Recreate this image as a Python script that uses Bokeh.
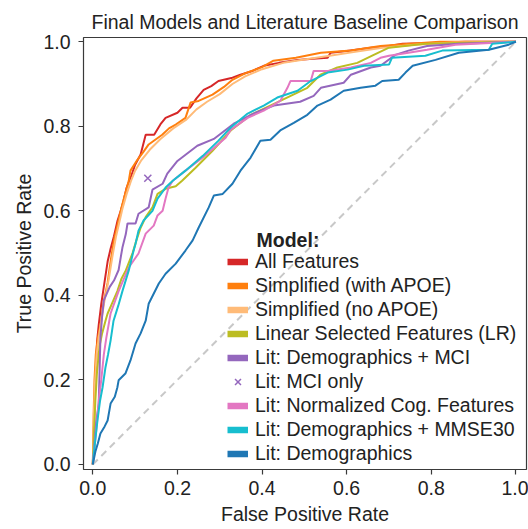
from bokeh.plotting import figure
from bokeh.models import Range1d, FixedTicker, PrintfTickFormatter, Legend, LegendItem, Label
from bokeh.embed import file_html
from bokeh.resources import INLINE

FONT = "Liberation Sans"
TXT = "#222222"
FS = "19.5px"

# ---------------- data ----------------
tick_vals = [0.0, 0.2, 0.4, 0.6, 0.8, 1.0]

diag_x = [0.0, 1.0]
diag_y = [0.0, 1.0]

fpr_all = [0, 0.003, 0.006, 0.010, 0.014, 0.020, 0.026, 0.035, 0.042, 0.050, 0.058, 0.066, 0.073, 0.080, 0.090,
           0.100, 0.113, 0.125, 0.145, 0.160, 0.172, 0.200, 0.212, 0.230, 0.245, 0.262, 0.280, 0.297, 0.330, 0.349,
           0.375, 0.404, 0.440, 0.484, 0.520, 0.555, 0.562, 0.600, 0.657, 0.700, 0.732, 0.800, 0.880, 1.0]
tpr_all = [0, 0.10, 0.20, 0.29, 0.33, 0.38, 0.42, 0.48, 0.51, 0.54, 0.575, 0.60, 0.625, 0.655, 0.680,
           0.709, 0.733, 0.780, 0.780, 0.805, 0.820, 0.832, 0.844, 0.844, 0.866, 0.886, 0.895, 0.907, 0.915, 0.922,
           0.930, 0.943, 0.950, 0.957, 0.960, 0.962, 0.974, 0.978, 0.986, 0.990, 0.995, 0.997, 1.0, 1.0]

fpr_apoe = [0, 0.002, 0.004, 0.007, 0.012, 0.018, 0.025, 0.035, 0.042, 0.050, 0.058, 0.066, 0.075, 0.085, 0.089,
            0.105, 0.120, 0.132, 0.150, 0.164, 0.180, 0.196, 0.219, 0.231, 0.250, 0.283, 0.310, 0.330, 0.360, 0.400,
            0.427, 0.480, 0.539, 0.610, 0.680, 0.750, 0.820, 1.0]
tpr_apoe = [0, 0.12, 0.20, 0.26, 0.30, 0.33, 0.38, 0.43, 0.48, 0.53, 0.565, 0.60, 0.635, 0.671, 0.695,
            0.720, 0.740, 0.757, 0.770, 0.780, 0.795, 0.804, 0.820, 0.856, 0.860, 0.875, 0.893, 0.910, 0.925, 0.940,
            0.955, 0.962, 0.974, 0.979, 0.990, 0.995, 1.0, 1.0]

fpr_noapoe = [0, 0.002, 0.005, 0.009, 0.014, 0.020, 0.028, 0.038, 0.046, 0.055, 0.062, 0.070, 0.080, 0.090, 0.100,
              0.115, 0.135, 0.160, 0.190, 0.220, 0.245, 0.270, 0.300, 0.330, 0.360, 0.400, 0.450, 0.500, 0.560, 0.620,
              0.680, 0.760, 0.850, 1.0]
tpr_noapoe = [0, 0.10, 0.19, 0.26, 0.30, 0.34, 0.39, 0.44, 0.49, 0.54, 0.57, 0.605, 0.64, 0.67, 0.695,
              0.72, 0.745, 0.770, 0.795, 0.815, 0.840, 0.858, 0.876, 0.900, 0.918, 0.935, 0.950, 0.958, 0.967, 0.976,
              0.985, 0.993, 0.998, 1.0]

fpr_lr = [0, 0.003, 0.006, 0.010, 0.016, 0.022, 0.030, 0.035, 0.045, 0.058, 0.068, 0.078, 0.094, 0.103, 0.113,
          0.125, 0.141, 0.153, 0.172, 0.196, 0.211, 0.243, 0.283, 0.326, 0.373, 0.443, 0.507, 0.538, 0.578, 0.625,
          0.664, 0.700, 0.786, 1.0]
tpr_lr = [0, 0.08, 0.15, 0.22, 0.28, 0.31, 0.34, 0.357, 0.38, 0.41, 0.44, 0.459, 0.50, 0.53, 0.56,
          0.585, 0.608, 0.64, 0.652, 0.658, 0.671, 0.702, 0.742, 0.790, 0.827, 0.860, 0.891, 0.922, 0.939, 0.950,
          0.969, 0.986, 0.995, 1.0]

fpr_demo_mci = [0, 0.004, 0.008, 0.014, 0.016, 0.018, 0.022, 0.026, 0.040, 0.050, 0.061, 0.066, 0.070, 0.078,
                0.082, 0.101, 0.108, 0.132, 0.141, 0.165, 0.176, 0.200, 0.247, 0.286, 0.333, 0.380, 0.428, 0.490,
                0.522, 0.539, 0.593, 0.610, 0.657, 0.680, 0.715, 0.746, 0.790, 0.865, 1.0]
tpr_demo_mci = [0, 0.05, 0.10, 0.144, 0.22, 0.30, 0.35, 0.388, 0.42, 0.435, 0.46, 0.49, 0.513, 0.545,
                0.57, 0.57, 0.593, 0.608, 0.650, 0.664, 0.688, 0.718, 0.754, 0.770, 0.806, 0.830, 0.849, 0.858,
                0.872, 0.891, 0.903, 0.922, 0.939, 0.943, 0.969, 0.979, 0.990, 0.995, 1.0]

fpr_mci = [0.13]
tpr_mci = [0.677]

fpr_cog = [0, 0.005, 0.010, 0.015, 0.020, 0.026, 0.032, 0.042, 0.061, 0.085, 0.108, 0.125, 0.144, 0.153, 0.165,
           0.172, 0.179, 0.189, 0.219, 0.260, 0.314, 0.326, 0.366, 0.404, 0.443, 0.460, 0.467, 0.515, 0.522, 0.555,
           0.610, 0.657, 0.680, 0.700, 0.746, 0.790, 0.857, 1.0]
tpr_cog = [0, 0.05, 0.10, 0.16, 0.20, 0.26, 0.30, 0.357, 0.41, 0.466, 0.499, 0.546, 0.565, 0.589, 0.60,
           0.629, 0.655, 0.671, 0.695, 0.726, 0.773, 0.792, 0.82, 0.837, 0.86, 0.891, 0.907, 0.907, 0.931, 0.931,
           0.939, 0.95, 0.962, 0.967, 0.974, 0.981, 0.993, 1.0]

fpr_mmse = [0, 0.005, 0.011, 0.017, 0.023, 0.030, 0.036, 0.042, 0.049, 0.060, 0.070, 0.085, 0.095, 0.101, 0.108,
            0.120, 0.141, 0.153, 0.172, 0.189, 0.219, 0.260, 0.297, 0.326, 0.366, 0.404, 0.436, 0.484, 0.515, 0.555,
            0.602, 0.641, 0.700, 0.707, 0.786, 0.826, 0.936, 0.944, 1.0]
tpr_mmse = [0, 0.05, 0.104, 0.15, 0.182, 0.23, 0.26, 0.293, 0.34, 0.375, 0.41, 0.459, 0.50, 0.522, 0.553,
            0.577, 0.60, 0.629, 0.655, 0.671, 0.695, 0.730, 0.766, 0.797, 0.83, 0.849, 0.868, 0.884, 0.907, 0.927,
            0.934, 0.943, 0.946, 0.962, 0.967, 0.979, 0.981, 0.995, 1.0]

fpr_demo = [0, 0.006, 0.012, 0.018, 0.028, 0.035, 0.042, 0.052, 0.058, 0.061, 0.077, 0.089, 0.101, 0.113, 0.125,
            0.132, 0.156, 0.172, 0.196, 0.219, 0.236, 0.250, 0.274, 0.286, 0.307, 0.330, 0.349, 0.373, 0.396, 0.420,
            0.443, 0.475, 0.507, 0.531, 0.562, 0.593, 0.633, 0.668, 0.684, 0.723, 0.739, 0.756, 0.810, 0.865, 0.936,
            0.983, 1.0]
tpr_demo = [0, 0.03, 0.05, 0.073, 0.09, 0.104, 0.144, 0.16, 0.182, 0.199, 0.215, 0.246, 0.286, 0.31, 0.34,
            0.38, 0.428, 0.451, 0.475, 0.506, 0.53, 0.56, 0.608, 0.636, 0.64, 0.664, 0.695, 0.726, 0.766, 0.768,
            0.79, 0.808, 0.827, 0.849, 0.863, 0.884, 0.891, 0.896, 0.907, 0.91, 0.927, 0.943, 0.957, 0.974, 0.981,
            0.993, 1.0]

names = ["All Features", "Simplified (with APOE)", "Simplified (no APOE)", "Linear Selected Features (LR)",
         "Lit: Demographics + MCI", "Lit: MCI only", "Lit: Normalized Cog. Features",
         "Lit: Demographics + MMSE30", "Lit: Demographics"]
colors = ["#d62728", "#ff7f0e", "#ffbb78", "#bcbd22", "#9467bd", "#9467bd", "#e377c2", "#17becf", "#1f77b4"]

curves = {
    "All Features": (fpr_all, tpr_all),
    "Simplified (with APOE)": (fpr_apoe, tpr_apoe),
    "Simplified (no APOE)": (fpr_noapoe, tpr_noapoe),
    "Linear Selected Features (LR)": (fpr_lr, tpr_lr),
    "Lit: Demographics + MCI": (fpr_demo_mci, tpr_demo_mci),
    "Lit: Normalized Cog. Features": (fpr_cog, tpr_cog),
    "Lit: Demographics + MMSE30": (fpr_mmse, tpr_mmse),
    "Lit: Demographics": (fpr_demo, tpr_demo),
}

# ---------------- figure ----------------
p = figure(width=528, height=529, output_backend="svg", toolbar_location=None,
           x_range=Range1d(-0.022, 1.025), y_range=Range1d(-0.012, 1.01),
           min_border_left=83, min_border_right=2, min_border_top=37, min_border_bottom=60,
           title="Final Models and Literature Baseline Comparison")
p.title.text_font = FONT
p.title.text_font_size = FS
p.title.text_font_style = "normal"
p.title.text_color = TXT
p.title.align = "center"
p.title.standoff = 10

p.xgrid.visible = False
p.ygrid.visible = False
p.outline_line_color = "#3a3a3a"
p.outline_line_width = 1.2
p.background_fill_color = "white"
p.border_fill_color = "white"

for ax, lab in ((p.xaxis[0], "False Positive Rate"), (p.yaxis[0], "True Positive Rate")):
    ax.ticker = FixedTicker(ticks=tick_vals)
    ax.formatter = PrintfTickFormatter(format="%.1f")
    ax.axis_label = lab
    ax.axis_label_text_font = FONT
    ax.axis_label_text_font_size = FS
    ax.axis_label_text_font_style = "normal"
    ax.axis_label_text_color = TXT
    ax.major_label_text_font = FONT
    ax.major_label_text_font_size = FS
    ax.major_label_text_color = TXT
    ax.major_tick_in = 0
    ax.major_tick_out = 5
    ax.minor_tick_in = 0
    ax.minor_tick_out = 0
    ax.major_tick_line_color = "#3a3a3a"
    ax.major_tick_line_width = 1.2
    ax.axis_line_color = None
    ax.axis_label_standoff = 5
p.xaxis[0].major_label_standoff = 6
p.yaxis[0].major_label_standoff = 8

p.line(diag_x, diag_y, line_color="#c8c8c8", line_width=2, line_dash="7 5")

for name in names:
    if name in curves:
        fx, fy = curves[name]
        p.line(fx, fy, line_color=colors[names.index(name)], line_width=2)

mci_r = p.scatter(fpr_mci, tpr_mci, marker="x", size=10, line_color=colors[5], line_width=1.5)

nan = float("nan")
items = []
for name, col in zip(names, colors):
    if name == "Lit: MCI only":
        items.append(LegendItem(label=name, renderers=[mci_r]))
    else:
        r = p.line([nan], [nan], line_color=col, line_width=6.5, line_cap="butt")
        items.append(LegendItem(label=name, renderers=[r]))

legend = Legend(items=items, location=(144, 4), glyph_width=21, glyph_height=21, label_height=20,
                spacing=1, label_standoff=7, padding=0, margin=0, border_line_color=None,
                background_fill_alpha=0, label_text_font=FONT, label_text_font_size=FS,
                label_text_color=TXT)
p.add_layout(legend)

p.add_layout(Label(x=0.387, y=0.532, text="Model:", text_font=FONT, text_font_size=FS,
                   text_font_style="bold", text_baseline="middle", text_color=TXT))

open("out.html", "w").write(file_html(p, INLINE))
